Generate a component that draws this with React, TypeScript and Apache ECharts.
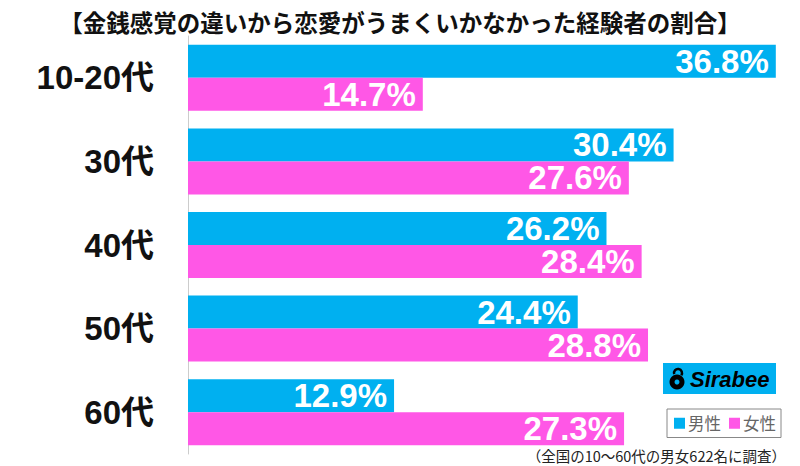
import React, { useEffect, useRef } from "react";
import * as echarts from "echarts";

const title = "【金銭感覚の違いから恋愛がうまくいかなかった経験者の割合】";
const categories = ["10-20代", "30代", "40代", "50代", "60代"];
const maleValues = [36.8, 30.4, 26.2, 24.4, 12.9];
const femaleValues = [14.7, 27.6, 28.4, 28.8, 27.3];
const seriesNames = ["男性", "女性"];
const footnote = "（全国の10～60代の男女622名に調査）";

const BLUE = "#00B0F0";
const PINK = "#FF57E6";
const LATIN = "'Liberation Sans', Arial, 'Noto Sans CJK JP', sans-serif";
const CJK = "'Noto Sans CJK JP', sans-serif";

export default function App() {
  const ref = useRef<HTMLDivElement>(null);
  useEffect(() => {
    if (!ref.current) return;
    document.body.style.margin = "0";
    const chart = echarts.init(ref.current, null, { renderer: "svg" });
    const labelStyle = {
      show: true,
      position: "insideRight",
      distance: 7,
      color: "#fff",
      fontSize: 33,
      fontWeight: "bold",
      fontFamily: LATIN,
      formatter: (p: any) => p.value.toFixed(1) + "%",
    };
    chart.setOption({
      animation: false,
      backgroundColor: "#fff",
      title: {
        text: title,
        left: "center",
        top: 5,
        textStyle: {
          fontSize: 23.5,
          fontWeight: "bold",
          color: "#111",
          fontFamily: CJK,
        },
      },
      grid: { left: 188, right: 21, top: 36, bottom: 12, containLabel: false },
      xAxis: {
        type: "value",
        min: 0,
        max: 37,
        show: false,
      },
      yAxis: {
        type: "category",
        data: categories,
        inverse: true,
        axisLine: { show: true, lineStyle: { color: "#ccc", width: 1 } },
        axisTick: { show: false },
        axisLabel: {
          fontSize: 33,
          fontWeight: "bold",
          color: "#111",
          margin: 34,
          fontFamily: LATIN,
        },
      },
      legend: {
        data: seriesNames,
        left: 667,
        top: 409,
        orient: "horizontal",
        icon: "rect",
        itemWidth: 11,
        itemHeight: 11,
        itemGap: 8,
        padding: [6, 5, 6, 7],
        borderColor: "#888",
        borderWidth: 1,
        textStyle: {
          fontSize: 16.5,
          color: "#666",
          padding: [0, 0, 0, -2],
          fontFamily: CJK,
        },
      },
      series: [
        {
          name: seriesNames[0],
          type: "bar",
          data: maleValues,
          barGap: "0%",
          barCategoryGap: "21%",
          itemStyle: { color: BLUE },
          label: labelStyle,
        },
        {
          name: seriesNames[1],
          type: "bar",
          data: femaleValues,
          barGap: "0%",
          barCategoryGap: "21%",
          itemStyle: { color: PINK },
          label: labelStyle,
        },
      ],
      graphic: [
        {
          type: "group",
          left: 663,
          top: 363,
          children: [
            { type: "rect", shape: { x: 0, y: 0, width: 113, height: 31 }, style: { fill: BLUE } },
            { type: "circle", shape: { cx: 14, cy: 19, r: 7.5 }, style: { fill: "#000" } },
            { type: "circle", shape: { cx: 14, cy: 19, r: 2.5 }, style: { fill: BLUE } },
            { type: "arc", shape: { cx: 15, cy: 10, r: 4, startAngle: Math.PI * 0.9, endAngle: Math.PI * 2.2 }, style: { fill: "none", stroke: "#000", lineWidth: 2.5 } },
            {
              type: "text",
              x: 27,
              y: 16,
              style: {
                text: "Sirabee",
                fill: "#000",
                fontSize: 22,
                fontWeight: "bold",
                fontStyle: "italic",
                fontFamily: LATIN,
                verticalAlign: "middle",
              },
            },
          ],
        },
        {
          type: "text",
          right: 14,
          top: 448,
          style: {
            text: footnote,
            fill: "#222",
            fontSize: 14.5,
            fontFamily: CJK,
          },
        },
      ],
    });
    return () => chart.dispose();
  }, []);
  return <div ref={ref} style={{ width: 800, height: 466 }} />;
}
